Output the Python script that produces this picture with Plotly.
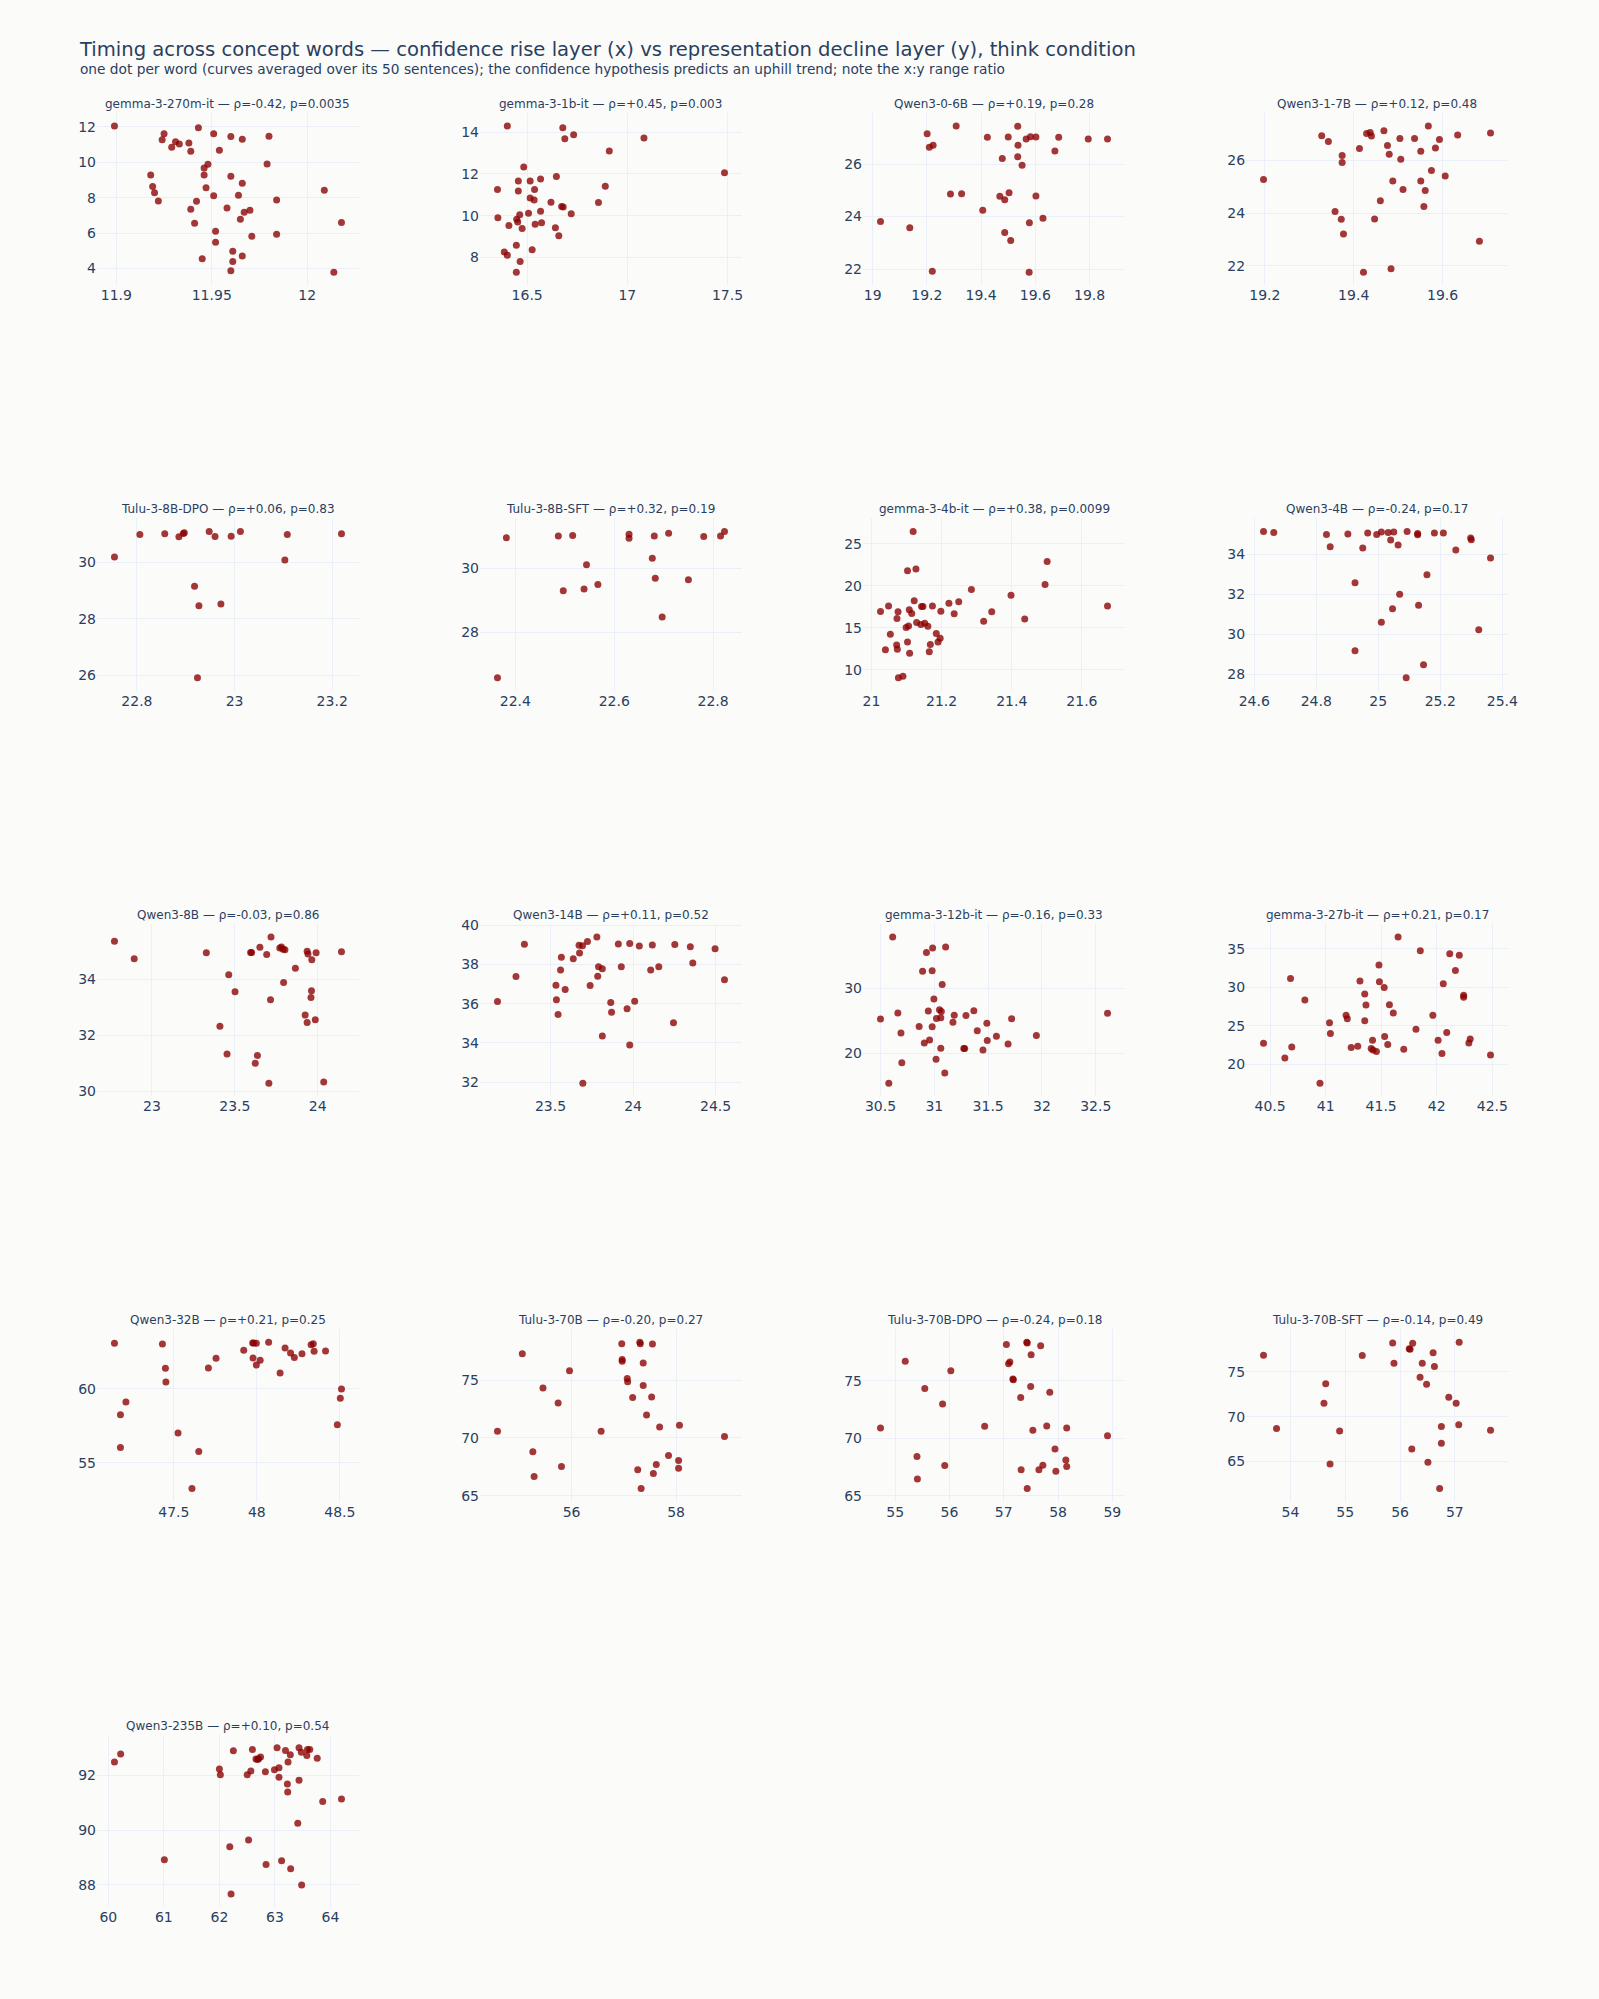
import plotly.graph_objects as go
from plotly.subplots import make_subplots

# модели по порядку (слева направо, сверху вниз)
models = ["gemma-3-270m-it", "gemma-3-1b-it", "Qwen3-0-6B", "Qwen3-1-7B",
          "Tulu-3-8B-DPO", "Tulu-3-8B-SFT", "gemma-3-4b-it", "Qwen3-4B",
          "Qwen3-8B", "Qwen3-14B", "gemma-3-12b-it", "gemma-3-27b-it",
          "Qwen3-32B", "Tulu-3-70B", "Tulu-3-70B-DPO", "Tulu-3-70B-SFT",
          "Qwen3-235B"]
rho = ["-0.42", "+0.45", "+0.19", "+0.12", "+0.06", "+0.32", "+0.38", "-0.24",
       "-0.03", "+0.11", "-0.16", "+0.21", "+0.21", "-0.20", "-0.24", "-0.14",
       "+0.10"]
pval = ["0.0035", "0.003", "0.28", "0.48", "0.83", "0.19", "0.0099", "0.17",
        "0.86", "0.52", "0.33", "0.17", "0.25", "0.27", "0.18", "0.49", "0.54"]

# (confidence rise layer, representation decline layer) для каждого слова
g270m = [(11.899, 12.04), (11.943, 11.94), (11.925, 11.60), (11.924, 11.27), (11.931, 11.15),
         (11.933, 11.02), (11.929, 10.84), (11.938, 11.08), (11.939, 10.61), (11.951, 11.60),
         (11.960, 11.44), (11.966, 11.29), (11.980, 11.46), (11.954, 10.67), (11.948, 9.88),
         (11.946, 9.67), (11.979, 9.90), (11.918, 9.28), (11.946, 9.28), (11.960, 9.20),
         (11.966, 8.81), (11.919, 8.62), (11.920, 8.28), (11.947, 8.56), (12.009, 8.41),
         (11.951, 8.11), (11.964, 8.13), (11.922, 7.81), (11.942, 7.79), (11.984, 7.87),
         (11.939, 7.34), (11.958, 7.42), (11.970, 7.29), (11.967, 7.17), (11.965, 6.78),
         (11.941, 6.55), (12.018, 6.59), (11.952, 6.10), (11.971, 5.82), (11.984, 5.93),
         (11.952, 5.48), (11.961, 4.98), (11.966, 4.71), (11.945, 4.55), (11.961, 4.39),
         (11.960, 3.87), (12.014, 3.79)]
g1b = [(16.401, 14.29), (16.678, 14.21), (16.732, 13.87), (16.688, 13.68), (17.083, 13.71),
       (16.910, 13.09), (16.483, 12.33), (16.646, 11.88), (17.485, 12.06), (16.567, 11.76),
       (16.456, 11.66), (16.515, 11.66), (16.890, 11.41), (16.352, 11.26), (16.456, 11.18),
       (16.537, 11.26), (16.515, 10.85), (16.535, 10.75), (16.619, 10.64), (16.856, 10.63),
       (16.672, 10.44), (16.680, 10.42), (16.720, 10.09), (16.567, 10.21), (16.507, 10.12),
       (16.463, 10.05), (16.354, 9.91), (16.448, 9.83), (16.453, 9.70), (16.409, 9.53),
       (16.572, 9.67), (16.540, 9.59), (16.475, 9.39), (16.641, 9.43), (16.658, 9.04),
       (16.446, 8.59), (16.525, 8.37), (16.386, 8.27), (16.401, 8.11), (16.465, 7.81),
       (16.446, 7.30)]
q06b = [(19.308, 27.45), (19.535, 27.44), (19.201, 27.15), (19.423, 27.02), (19.500, 27.03),
        (19.582, 27.04), (19.602, 27.03), (19.566, 26.95), (19.686, 27.02), (19.795, 26.95),
        (19.866, 26.95), (19.223, 26.72), (19.209, 26.64), (19.536, 26.72), (19.672, 26.50),
        (19.478, 26.21), (19.535, 26.28), (19.551, 25.95), (19.287, 24.86), (19.328, 24.87),
        (19.503, 24.91), (19.469, 24.77), (19.487, 24.64), (19.602, 24.78), (19.406, 24.24),
        (19.029, 23.81), (19.137, 23.57), (19.628, 23.94), (19.578, 23.76), (19.487, 23.39),
        (19.509, 23.09), (19.220, 21.92), (19.577, 21.88)]
q17b = [(19.568, 27.30), (19.328, 26.93), (19.429, 27.02), (19.437, 27.05), (19.440, 26.92),
        (19.468, 27.12), (19.504, 26.83), (19.537, 26.83), (19.593, 26.79), (19.634, 26.96),
        (19.708, 27.03), (19.343, 26.71), (19.413, 26.45), (19.476, 26.56), (19.584, 26.47),
        (19.551, 26.34), (19.480, 26.23), (19.374, 26.18), (19.506, 26.04), (19.374, 25.92),
        (19.197, 25.27), (19.575, 25.61), (19.606, 25.41), (19.488, 25.22), (19.551, 25.22),
        (19.511, 24.89), (19.561, 24.86), (19.460, 24.47), (19.558, 24.25), (19.358, 24.06),
        (19.372, 23.77), (19.447, 23.78), (19.377, 23.21), (19.683, 22.93), (19.484, 21.89),
        (19.422, 21.76)]
t8dpo = [(22.754, 30.18), (22.806, 30.98), (22.857, 31.01), (22.886, 30.90), (22.895, 31.02),
         (22.897, 31.04), (22.948, 31.09), (22.960, 30.91), (22.993, 30.92), (23.012, 31.09),
         (23.108, 30.98), (23.219, 31.01), (23.103, 30.08), (22.918, 29.15), (22.927, 28.46),
         (22.972, 28.52), (22.924, 25.91)]
t8sft = [(22.382, 30.96), (22.487, 31.02), (22.516, 31.03), (22.630, 31.07), (22.630, 30.95),
         (22.681, 31.02), (22.710, 31.10), (22.781, 31.00), (22.815, 31.02), (22.823, 31.16),
         (22.544, 30.12), (22.677, 30.32), (22.497, 29.30), (22.539, 29.36), (22.567, 29.50),
         (22.683, 29.69), (22.750, 29.65), (22.697, 28.48), (22.364, 26.58)]
g4b = [(21.119, 26.48), (21.103, 21.79), (21.127, 21.99), (21.501, 22.90), (21.495, 20.16),
       (21.285, 19.56), (21.398, 18.89), (21.673, 17.61), (21.026, 16.94), (21.049, 17.61),
       (21.076, 16.90), (21.073, 16.10), (21.108, 17.14), (21.115, 16.70), (21.122, 18.21),
       (21.143, 17.53), (21.147, 17.53), (21.174, 17.61), (21.198, 16.98), (21.221, 17.93),
       (21.236, 16.66), (21.249, 18.09), (21.320, 15.78), (21.343, 16.90), (21.437, 16.06),
       (21.129, 15.62), (21.141, 15.39), (21.152, 15.54), (21.161, 15.19), (21.099, 15.03),
       (21.106, 15.23), (21.054, 14.23), (21.185, 14.31), (21.196, 13.75), (21.190, 13.32),
       (21.168, 13.00), (21.103, 13.32), (21.072, 12.96), (21.074, 12.44), (21.040, 12.40),
       (21.109, 11.96), (21.165, 12.16), (21.077, 9.06), (21.090, 9.22)]
q4b = [(24.630, 35.13), (24.663, 35.08), (24.833, 34.98), (24.845, 34.37), (24.902, 35.00),
       (24.966, 35.05), (24.950, 34.30), (24.995, 34.98), (25.010, 35.10), (25.032, 35.08),
       (25.050, 35.10), (25.040, 34.70), (25.064, 34.45), (25.093, 35.13), (25.127, 35.03),
       (25.127, 34.97), (25.181, 35.05), (25.210, 35.05), (25.250, 34.20), (25.298, 34.80),
       (25.300, 34.72), (25.362, 33.80), (25.157, 32.97), (24.925, 32.57), (25.069, 32.00),
       (25.130, 31.45), (25.046, 31.27), (25.010, 30.60), (25.324, 30.22), (24.925, 29.17),
       (25.146, 28.47), (25.090, 27.83)]
q8b = [(22.774, 35.36), (22.893, 34.74), (23.328, 34.95), (23.595, 34.96), (23.601, 34.96),
       (23.651, 35.15), (23.692, 34.89), (23.718, 35.52), (23.771, 35.12), (23.781, 35.16),
       (23.791, 35.08), (23.802, 35.06), (23.936, 35.01), (23.941, 34.91), (23.990, 34.95),
       (24.143, 34.99), (23.964, 34.70), (23.865, 34.40), (23.463, 34.17), (23.794, 33.89),
       (23.501, 33.56), (23.962, 33.60), (23.959, 33.36), (23.715, 33.28), (23.924, 32.73),
       (23.985, 32.56), (23.936, 32.46), (23.410, 32.33), (23.453, 31.34), (23.636, 31.29),
       (23.623, 31.01), (23.705, 30.30), (24.036, 30.34)]
q14b = [(23.179, 36.11), (23.291, 37.39), (23.342, 39.03), (23.533, 36.94), (23.536, 36.20),
        (23.546, 35.45), (23.566, 38.37), (23.561, 37.72), (23.589, 36.72), (23.638, 38.30),
        (23.673, 38.98), (23.694, 38.96), (23.676, 38.59), (23.724, 39.17), (23.781, 39.41),
        (23.791, 37.89), (23.814, 37.79), (23.786, 37.40), (23.740, 36.93), (23.911, 39.05),
        (23.980, 39.07), (24.038, 38.95), (24.117, 39.00), (24.253, 39.02), (24.347, 38.91),
        (24.497, 38.81), (23.929, 37.88), (24.107, 37.72), (24.156, 37.88), (24.362, 38.08),
        (24.554, 37.22), (23.865, 36.06), (23.870, 35.57), (23.964, 35.74), (24.010, 36.13),
        (24.245, 35.03), (23.814, 34.35), (23.980, 33.89), (23.696, 31.95)]
g12b = [(30.613, 37.95), (31.105, 36.40), (30.984, 36.25), (30.927, 35.55), (30.891, 32.65),
        (30.980, 32.70), (31.073, 30.60), (30.996, 28.35), (30.500, 25.25), (30.661, 26.20),
        (30.944, 26.50), (31.048, 26.70), (31.065, 26.40), (31.020, 25.35), (31.060, 25.45),
        (31.185, 25.85), (31.294, 25.80), (31.367, 26.55), (31.173, 24.75), (31.488, 24.60),
        (31.718, 25.30), (32.609, 26.15), (30.859, 24.10), (30.980, 24.05), (30.690, 23.10),
        (31.399, 23.45), (31.577, 22.60), (31.948, 22.70), (30.956, 22.00), (30.907, 21.55),
        (31.492, 21.95), (31.685, 21.40), (31.060, 20.75), (31.274, 20.70), (31.282, 20.70),
        (31.452, 20.45), (31.016, 19.05), (30.698, 18.50), (31.097, 16.90), (30.577, 15.35)]
g27b = [(40.441, 22.76), (40.633, 20.86), (40.695, 22.28), (40.684, 31.16), (40.813, 28.36),
        (40.949, 17.59), (41.035, 25.43), (41.043, 24.01), (41.184, 26.38), (41.195, 25.95),
        (41.230, 22.20), (41.289, 22.37), (41.309, 30.82), (41.352, 29.14), (41.363, 27.72),
        (41.352, 25.69), (41.422, 23.15), (41.410, 22.07), (41.426, 21.90), (41.457, 21.68),
        (41.480, 32.89), (41.484, 30.73), (41.527, 30.00), (41.574, 27.76), (41.609, 26.68),
        (41.531, 23.62), (41.559, 22.59), (41.703, 21.98), (41.652, 36.55), (41.852, 34.74),
        (41.813, 24.57), (41.965, 26.38), (42.012, 23.15), (42.047, 21.42), (42.059, 30.47),
        (42.090, 24.14), (42.117, 34.35), (42.168, 32.20), (42.203, 34.18), (42.242, 28.97),
        (42.242, 28.71), (42.301, 23.32), (42.289, 22.80), (42.484, 21.25)]
q32b = [(47.142, 63.05), (47.431, 63.00), (47.449, 61.37), (47.452, 60.45), (47.211, 59.10),
        (47.178, 58.25), (47.178, 56.03), (47.525, 57.02), (47.650, 55.76), (47.609, 53.27),
        (47.708, 61.39), (47.754, 62.04), (47.921, 62.58), (47.975, 63.07), (47.980, 63.07),
        (47.997, 63.05), (47.977, 62.06), (48.020, 61.91), (47.997, 61.59), (48.071, 63.12),
        (48.170, 62.74), (48.203, 62.40), (48.226, 62.09), (48.272, 62.35), (48.327, 62.96),
        (48.340, 63.03), (48.345, 62.51), (48.414, 62.53), (48.140, 61.05), (48.510, 59.98),
        (48.503, 59.35), (48.485, 57.56)]
t70b = [(54.581, 70.57), (55.056, 77.29), (55.452, 74.33), (55.742, 73.03), (55.960, 75.81),
        (55.258, 68.80), (55.282, 66.65), (55.806, 67.52), (56.565, 70.57), (56.960, 78.16),
        (56.968, 76.80), (56.968, 76.65), (57.306, 78.28), (57.315, 78.16), (57.548, 78.13),
        (57.371, 76.48), (57.065, 75.14), (57.073, 74.86), (57.371, 74.54), (57.169, 73.49),
        (57.532, 73.55), (57.435, 71.99), (57.685, 70.94), (58.065, 71.09), (58.927, 70.13),
        (57.855, 68.48), (58.048, 68.04), (58.048, 67.38), (57.621, 67.70), (57.565, 66.91),
        (57.266, 67.23), (57.331, 65.61)]
t70dpo = [(54.728, 70.90), (55.184, 76.69), (55.544, 74.33), (55.872, 72.99), (56.024, 75.87),
          (55.400, 68.43), (55.408, 66.48), (55.912, 67.65), (56.648, 71.05), (57.048, 78.14),
          (57.424, 78.34), (57.432, 78.28), (57.680, 78.05), (57.112, 76.63), (57.088, 76.48),
          (57.504, 77.27), (57.168, 75.15), (57.176, 75.09), (57.496, 74.51), (57.848, 74.01),
          (57.312, 73.55), (57.536, 70.70), (57.792, 71.08), (58.160, 70.90), (58.912, 70.23),
          (57.944, 69.07), (58.144, 68.11), (58.160, 67.56), (57.720, 67.67), (57.648, 67.27),
          (57.960, 67.15), (57.320, 67.27), (57.432, 65.64)]
t70sft = [(53.508, 76.87), (55.310, 76.83), (55.865, 78.25), (56.230, 78.21), (56.167, 77.61),
          (56.183, 77.54), (56.603, 77.16), (57.079, 78.32), (55.889, 75.97), (56.405, 75.97),
          (56.627, 75.60), (54.643, 73.69), (56.365, 74.40), (56.484, 73.62), (54.611, 71.49),
          (56.889, 72.16), (57.024, 71.49), (53.746, 68.66), (54.897, 68.40), (56.754, 68.88),
          (57.071, 69.10), (57.651, 68.47), (56.754, 67.01), (56.214, 66.38), (54.722, 64.70),
          (56.508, 64.89), (56.722, 61.94)]
q235b = [(60.111, 92.49), (60.222, 92.78), (61.009, 88.91), (62.000, 92.23), (62.017, 92.02),
         (62.251, 92.90), (62.501, 92.02), (62.566, 92.16), (62.595, 92.95), (62.659, 92.60),
         (62.688, 92.58), (62.706, 92.61), (62.741, 92.67), (62.828, 92.13), (62.991, 92.21),
         (63.073, 92.28), (63.073, 91.93), (63.038, 93.01), (63.190, 92.91), (63.277, 92.75),
         (63.236, 92.49), (63.224, 91.68), (63.230, 91.39), (63.434, 93.01), (63.475, 92.85),
         (63.574, 92.73), (63.586, 92.95), (63.627, 92.95), (63.761, 92.63), (63.434, 91.82),
         (63.860, 91.04), (64.198, 91.14), (63.411, 90.25), (62.525, 89.64), (62.187, 89.39),
         (62.840, 88.74), (63.120, 88.88), (63.283, 88.58), (63.481, 87.99), (62.210, 87.66)]

points = [g270m, g1b, q06b, q17b, t8dpo, t8sft, g4b, q4b, q8b, q14b,
          g12b, g27b, q32b, t70b, t70dpo, t70sft, q235b]

titles = [f"{m} — ρ={r}, p={p}" for m, r, p in zip(models, rho, pval)]

BG = "#fbfbfa"

fig = make_subplots(rows=5, cols=4, subplot_titles=titles,
                    horizontal_spacing=0.0858, vertical_spacing=0.13)

for i, pts in enumerate(points):
    xs = [p[0] for p in pts]
    ys = [p[1] for p in pts]
    fig.add_trace(go.Scatter(
        x=xs, y=ys, mode="markers",
        marker=dict(color="darkred", size=7, opacity=0.78),
        showlegend=False,
        name=models[i]
    ), row=i // 4 + 1, col=i % 4 + 1)

fig.update_annotations(font=dict(size=12, family="DejaVu Sans"))

fig.update_layout(
    template="plotly_white",
    font=dict(family="DejaVu Sans, Verdana, sans-serif", size=14),
    width=1599, height=1999,
    margin=dict(l=97, r=91, t=113, b=92),
    paper_bgcolor=BG,
    plot_bgcolor=BG,
    title=dict(
        text="Timing across concept words — confidence rise layer (x) vs representation decline layer (y), think condition"
             "<br><sup>one dot per word (curves averaged over its 50 sentences); the confidence hypothesis predicts an uphill trend; note the x:y range ratio</sup>",
        font=dict(size=19.6),
        yref="container", y=0.9718, yanchor="top"
    ),
    showlegend=False
)

# страница без отступов, фон как у фигуры
fig.write_html("out.html", config={"displayModeBar": False},
               post_script=f"document.body.style.margin='0';document.body.style.background='{BG}';")
